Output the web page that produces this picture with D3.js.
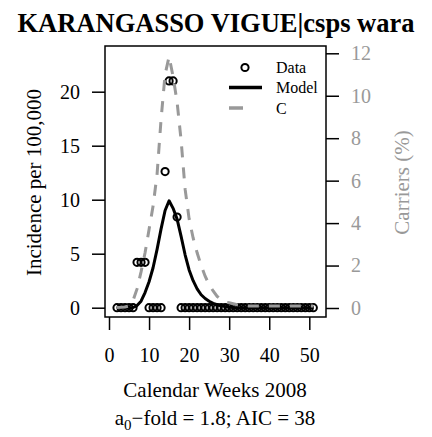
<!DOCTYPE html>
<html>
<head>
<meta charset="utf-8">
<script src="https://cdn.jsdelivr.net/npm/d3@7"></script>
<style>
  html, body { margin: 0; padding: 0; background: #fff; }
  svg { display: block; }
  text { font-family: "Liberation Serif", "Times New Roman", serif; }
</style>
</head>
<body>
<svg id="chart" width="432" height="437"></svg>
<script>
// Calendar weeks of 2008 with observations
const weeks = [2, 3, 4, 5, 6, 7, 8, 9, 10, 11, 12, 13, 14, 15, 16, 17, 18, 19, 20, 21,
  22, 23, 24, 25, 26, 27, 28, 29, 30, 31, 32, 33, 34, 35, 36, 37, 38, 39, 40, 41,
  42, 43, 44, 45, 46, 47, 48, 49, 50, 51];

// Observed incidence per 100,000
const incidence = [0, 0, 0, 0, 0, 4.2, 4.2, 4.2, 0, 0, 0, 0, 12.6, 21, 21, 8.4, 0, 0, 0, 0,
  0, 0, 0, 0, 0, 0, 0, 0, 0, 0, 0, 0, 0, 0, 0, 0, 0, 0, 0, 0,
  0, 0, 0, 0, 0, 0, 0, 0, 0, 0];

// Fitted model incidence per 100,000
const model = [0, 0, 0, 0, 0.02, 0.2, 0.6, 1.4, 2.4, 3.7, 5.4, 7.3, 9.0, 9.9, 9.2, 8.2, 6.6, 4.9, 3.5, 2.5,
  1.75, 1.2, 0.85, 0.6, 0.4, 0.27, 0.18, 0.1, 0.05, 0.02, 0, 0, 0, 0, 0, 0, 0, 0, 0, 0,
  0, 0, 0, 0, 0, 0, 0, 0, 0, 0];

// Carriers (%)
const carriers = [0.02, 0.03, 0.05, 0.1, 0.35, 0.9, 1.7, 2.6, 3.7, 4.8, 6.3, 8.9, 11.0, 11.85, 10.9, 9.7, 7.9, 5.6, 4.2, 3.3,
  2.6, 2.0, 1.5, 1.1, 0.8, 0.55, 0.4, 0.28, 0.25, 0.2, 0.15, 0.12, 0.1, 0.1, 0.1, 0.1, 0.1, 0.1, 0.1, 0.1,
  0.1, 0.1, 0.1, 0.1, 0.1, 0.1, 0.1, 0.1, 0.1, 0.1];

const xTicks = [0, 10, 20, 30, 40, 50];
const yLeftTicks = [0, 5, 10, 15, 20];
const yRightTicks = [0, 2, 4, 6, 8, 10, 12];

const titleText = "KARANGASSO VIGUE|csps wara";
const legendLabels = ["Data", "Model", "C"];

const grey = "#999999";
const serif = "'Liberation Serif', 'Times New Roman', serif";
const svg = d3.select("#chart");

// plot region
const box = { left: 105, right: 326, top: 46, bottom: 317 };

const x = d3.scaleLinear().domain([0, 50]).range([109, 309.3]);
const yL = d3.scaleLinear().domain([0, 20]).range([307.7, 91.7]);
const yR = d3.scaleLinear().domain([0, 12]).range([308, 53.3]);

// title
svg.append("text")
  .attr("x", 216).attr("y", 32)
  .attr("text-anchor", "middle")
  .attr("font-size", 26.5).attr("font-weight", "bold")
  .text(titleText);

// axes
const tickLen = 13;
const axB = svg.append("g").attr("transform", `translate(0,${box.bottom})`)
  .call(d3.axisBottom(x).tickValues(xTicks).tickSize(tickLen).tickPadding(18).tickFormat(d3.format("d")));
const axL = svg.append("g").attr("transform", `translate(${box.left},0)`)
  .call(d3.axisLeft(yL).tickValues(yLeftTicks).tickSize(tickLen).tickPadding(12).tickFormat(d3.format("d")));
const axR = svg.append("g").attr("transform", `translate(${box.right},0)`)
  .call(d3.axisRight(yR).tickValues(yRightTicks).tickSize(tickLen).tickPadding(12).tickFormat(d3.format("d")));

[axB, axL, axR].forEach(a => {
  a.attr("font-family", serif);
  a.select(".domain").remove();
  a.selectAll(".tick line").attr("stroke", "#000").attr("stroke-width", 1.5);
  a.selectAll(".tick text").attr("font-size", 20).attr("font-family", serif);
});
axB.selectAll(".tick text").attr("fill", "#000");
axL.selectAll(".tick text").attr("fill", "#000");
axR.selectAll(".tick text").attr("fill", grey);

// plot box
svg.append("rect")
  .attr("x", box.left).attr("y", box.top)
  .attr("width", box.right - box.left).attr("height", box.bottom - box.top)
  .attr("fill", "none").attr("stroke", "#000").attr("stroke-width", 1.5);

// axis titles
svg.append("text")
  .attr("transform", "translate(41,182.5) rotate(-90)")
  .attr("text-anchor", "middle").attr("font-size", 21)
  .text("Incidence per 100,000");

svg.append("text")
  .attr("transform", "translate(409,182.5) rotate(-90)")
  .attr("text-anchor", "middle").attr("font-size", 21).attr("fill", grey)
  .text("Carriers (%)");

svg.append("text")
  .attr("x", 215).attr("y", 397)
  .attr("text-anchor", "middle").attr("font-size", 21)
  .text("Calendar Weeks 2008");

const sub = svg.append("text")
  .attr("x", 215).attr("y", 425)
  .attr("text-anchor", "middle").attr("font-size", 21);
sub.append("tspan").text("a");
sub.append("tspan").attr("font-size", 15).attr("dy", 5).text("0");
sub.append("tspan").attr("dy", -5).text("\u2212fold = 1.8; AIC = 38");

// observed data
const obs = weeks.map((w, i) => ({ w, v: incidence[i] }));
svg.append("g").selectAll("circle").data(obs).join("circle")
  .attr("cx", d => x(d.w)).attr("cy", d => yL(d.v)).attr("r", 3.6)
  .attr("fill", "none").attr("stroke", "#000").attr("stroke-width", 2);

// model curve
const modelLine = d3.line().x((d, i) => x(weeks[i])).y(d => yL(d));
svg.append("path").datum(model)
  .attr("d", modelLine)
  .attr("fill", "none").attr("stroke", "#000").attr("stroke-width", 3)
  .attr("stroke-linejoin", "round");

// carriers curve
const carLine = d3.line().x((d, i) => x(weeks[i])).y(d => yR(d));
svg.append("path").datum(carriers)
  .attr("d", carLine)
  .attr("fill", "none").attr("stroke", grey).attr("stroke-width", 3)
  .attr("stroke-dasharray", "11,10");

// legend
const lg = svg.append("g");
const lgX0 = 229, lgX1 = 262, lgTextX = 276;
const rowY = [67.5, 87.5, 108];
lg.append("circle").attr("cx", 245).attr("cy", rowY[0]).attr("r", 3.6)
  .attr("fill", "none").attr("stroke", "#000").attr("stroke-width", 2);
lg.append("line").attr("x1", lgX0).attr("x2", lgX1).attr("y1", rowY[1]).attr("y2", rowY[1])
  .attr("stroke", "#000").attr("stroke-width", 3.5);
lg.append("line").attr("x1", lgX0).attr("x2", lgX1).attr("y1", rowY[2]).attr("y2", rowY[2])
  .attr("stroke", grey).attr("stroke-width", 3.5).attr("stroke-dasharray", "14,30");
lg.selectAll("text.lab").data(legendLabels).join("text")
  .attr("class", "lab")
  .attr("x", lgTextX).attr("y", (d, i) => rowY[i] + 5.5)
  .attr("font-size", 16)
  .text(d => d);
</script>
</body>
</html>
